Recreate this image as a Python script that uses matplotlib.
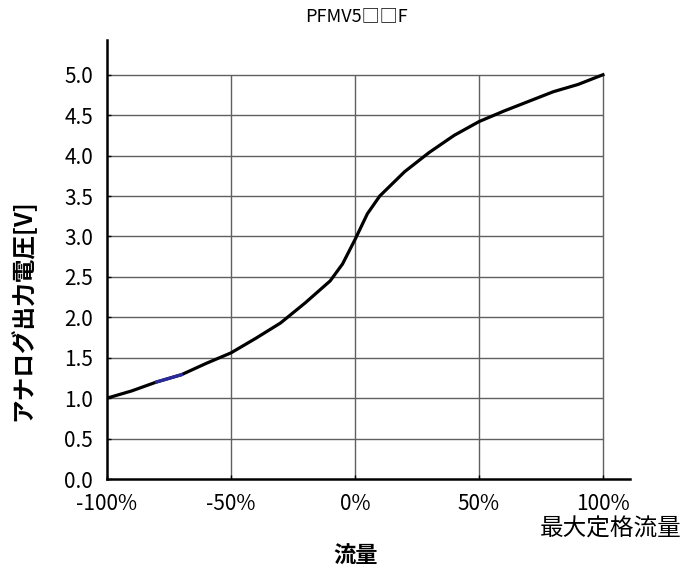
import matplotlib
matplotlib.use("Agg")
import matplotlib.pyplot as plt

plt.rcParams['font.family'] = ['Noto Sans CJK JP', 'DejaVu Sans']

# Flow rate (% of max rated flow) vs analog output voltage
flow_pct = [-100, -90, -80, -70, -60, -50, -40, -30, -20, -10, -5, 0, 5, 10,
            20, 30, 40, 50, 60, 70, 80, 90, 100]
voltage = [1.00, 1.09, 1.20, 1.29, 1.43, 1.56, 1.74, 1.93, 2.18, 2.45, 2.66,
           2.96, 3.28, 3.50, 3.80, 4.04, 4.25, 4.42, 4.55, 4.67, 4.79, 4.88, 5.00]

# short highlighted stretch of the curve
seg_flow = [-80, -70]
seg_voltage = [1.20, 1.29]

x_ticks = [-100, -50, 0, 50, 100]
x_tick_labels = ['-100%', '-50%', '0%', '50%', '100%']
y_ticks = [0.0, 0.5, 1.0, 1.5, 2.0, 2.5, 3.0, 3.5, 4.0, 4.5, 5.0]

fig = plt.figure(figsize=(6.84, 5.80), dpi=100)
ax = fig.add_axes([0.1564, 0.1741, 0.7646, 0.757])

ax.set_xlim(-100, 110.9)
ax.set_ylim(0, 5.43)

# grid limited to the rated range
ax.hlines(y_ticks[1:], -100, 100, colors='#606060', linewidth=1.0, zorder=1)
ax.vlines(x_ticks[1:], 0, 5.0, colors='#606060', linewidth=1.0, zorder=1)

ax.plot(flow_pct, voltage, color='black', linewidth=2.3, zorder=3,
        solid_joinstyle='round')
ax.plot(seg_flow, seg_voltage, color='#2a2aa0', linewidth=2.3, zorder=4)

for side in ('top', 'right'):
    ax.spines[side].set_visible(False)
for side in ('left', 'bottom'):
    ax.spines[side].set_linewidth(1.8)
    ax.spines[side].set_color('black')

ax.set_xticks(x_ticks)
ax.set_xticklabels(x_tick_labels)
ax.set_yticks(y_ticks)
ax.set_yticklabels([f'{v:.1f}' for v in y_ticks])
ax.tick_params(axis='both', direction='in', length=3, width=1,
               labelsize=15)
ax.tick_params(axis='y', pad=10)
ax.tick_params(axis='x', pad=10)

fig.text(0.521, 0.972, 'PFMV5□□F', ha='center', va='center', fontsize=13)
fig.text(0.033, 0.466, 'アナログ出力電圧[V]', ha='center', va='center',
         rotation=90, fontsize=17, fontweight='bold')
fig.text(0.996, 0.088, '最大定格流量', ha='right', va='center', fontsize=17)
fig.text(0.52, 0.041, '流量', ha='center', va='center', fontsize=16,
         fontweight='bold')

fig.savefig('out.png', dpi=100)
